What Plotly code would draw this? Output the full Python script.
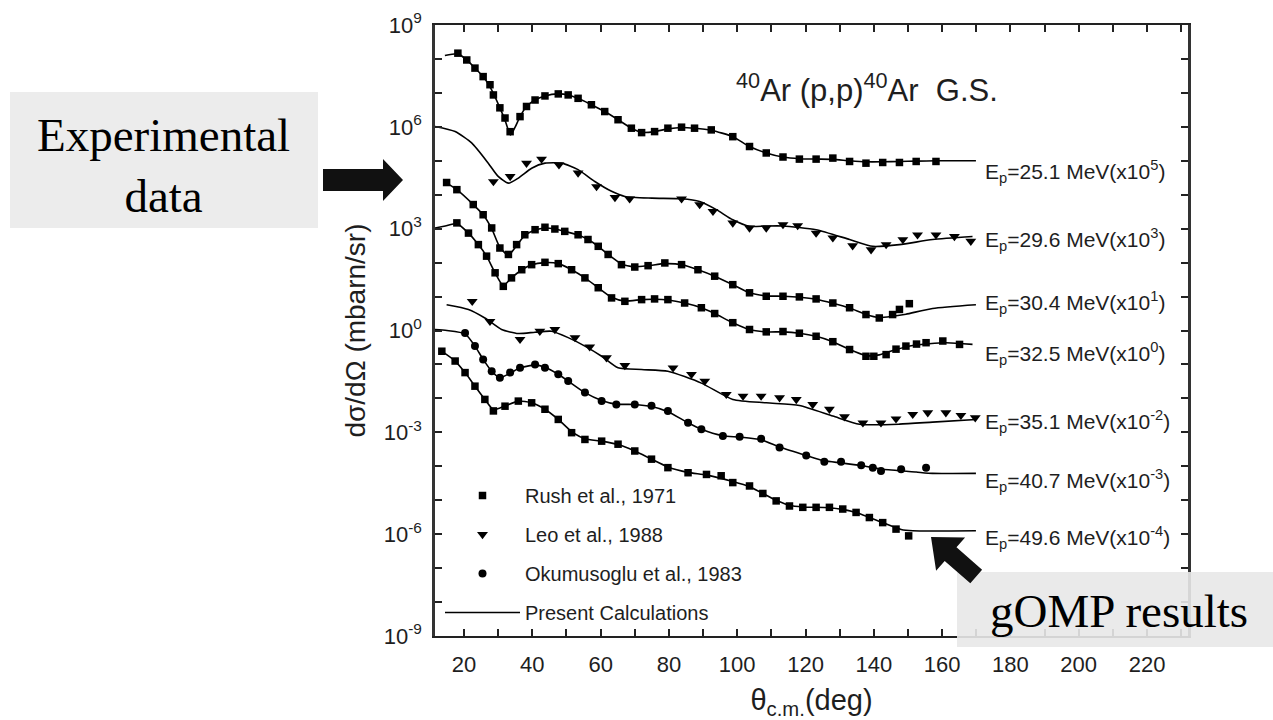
import plotly.graph_objects as go

# ---------------- data ----------------
energies = [25.1, 29.6, 30.4, 32.5, 35.1, 40.7, 49.6]
scale_exp = [5, 3, 1, 0, -2, -3, -4]
sources = ["Rush et al., 1971", "Leo et al., 1988", "Rush et al., 1971", "Rush et al., 1971",
           "Leo et al., 1988", "Okumusoglu et al., 1983", "Rush et al., 1971"]

# experimental angular distributions: theta (deg), dsigma/dOmega (mb/sr, unscaled)
th_251 = [18.2, 20.8, 23.2, 25.6, 27.6, 28.6, 30.5, 32.0, 33.5, 36.4, 38.3, 40.8, 43.7, 47.6, 50.5, 53.4,
          57.3, 61.2, 65.1, 69.0, 72.0, 75.8, 79.7, 83.7, 87.5, 92.4, 98.7, 103.6, 108.5, 113.4, 118.2,
          123.1, 128.0, 132.9, 137.7, 142.6, 147.5, 152.4, 158.2]
xs_251 = [1480, 933, 537, 302, 174, 87, 36.3, 18.2, 7.2, 20.0, 39.8, 61.7, 81.3, 93.3, 87.1, 69.2,
          44.7, 28.2, 16.2, 9.12, 6.76, 7.24, 9.12, 9.77, 9.12, 8.13, 5.13, 2.63, 1.70, 1.29, 1.12,
          1.12, 1.20, 0.955, 0.851, 0.891, 0.891, 0.955, 0.955]

th_296 = [28.6, 33.5, 38.3, 42.7, 47.8, 53.4, 58.8, 64.2, 68.5, 83.7, 89.0, 92.9, 98.7, 103.6, 108.5,
          113.4, 117.7, 123.1, 128.0, 133.8, 139.2, 143.6, 148.5, 152.8, 158.2, 163.6, 168.4]
xs_296 = [24.5, 34.7, 85.1, 112, 75.9, 43.7, 17.4, 8.32, 7.59, 7.59, 5.13, 3.24, 1.48, 1.05, 1.05,
          1.32, 1.23, 0.741, 0.537, 0.316, 0.240, 0.339, 0.479, 0.661, 0.661, 0.589, 0.427]

th_304 = [14.9, 17.9, 22.7, 25.6, 28.1, 30.5, 33.0, 35.4, 37.8, 40.8, 43.7, 46.6, 49.5, 53.4, 56.3,
          59.3, 62.2, 66.1, 70.0, 73.9, 78.8, 83.7, 88.5, 93.4, 98.7, 103.6, 108.5, 113.4, 118.2,
          123.1, 128.0, 132.9, 137.7, 141.6, 145.5, 147.5, 150.4]
xs_304 = [2290, 1410, 513, 257, 105, 26.9, 17.4, 33.9, 66.1, 93.3, 110, 97.7, 83.2, 66.1, 47.9,
          30.2, 17.4, 8.71, 7.41, 8.13, 9.77, 8.71, 6.17, 3.98, 2.24, 1.29, 1.02, 1.02, 0.977,
          0.851, 0.646, 0.468, 0.295, 0.234, 0.295, 0.417, 0.617]

th_325 = [17.9, 21.3, 24.2, 26.6, 29.1, 31.5, 33.9, 36.9, 39.8, 43.7, 47.6, 51.5, 55.4, 59.3, 63.2,
          67.1, 72.0, 75.8, 79.7, 84.6, 89.5, 93.4, 98.7, 103.6, 108.5, 113.4, 118.2, 123.1, 128.0,
          132.9, 137.7, 140.0, 143.6, 146.5, 149.4, 152.5, 155.3, 160.2, 165.1]
xs_325 = [1480, 741, 339, 155, 50.1, 20.0, 35.5, 61.7, 87.1, 102, 93.3, 61.7, 35.5, 18.2, 9.12,
          7.24, 8.13, 8.51, 8.13, 6.46, 4.68, 3.16, 1.70, 1.07, 0.912, 0.933, 0.832, 0.676, 0.468,
          0.275, 0.174, 0.174, 0.195, 0.282, 0.347, 0.398, 0.437, 0.490, 0.389]

th_351 = [22.4, 27.6, 36.4, 42.2, 46.6, 52.5, 56.8, 61.7, 67.1, 81.2, 86.6, 90.5, 96.8, 101.7, 107.0,
          112.4, 117.3, 122.1, 127.0, 131.4, 136.8, 142.1, 146.5, 151.4, 155.8, 161.1, 165.5, 169.7]
xs_351 = [724, 186, 55.0, 95.5, 107, 61.7, 33.1, 15.8, 9.33, 7.94, 5.13, 3.24, 1.32, 1.17, 1.17,
          1.05, 0.933, 0.661, 0.479, 0.288, 0.191, 0.191, 0.251, 0.339, 0.380, 0.380, 0.316, 0.269]

th_407 = [20.3, 23.2, 25.6, 28.1, 30.5, 33.5, 36.4, 40.8, 43.7, 47.6, 50.5, 55.4, 60.3, 64.6, 70.0,
          74.9, 79.7, 85.6, 89.5, 95.8, 100.7, 107.0, 112.4, 120.2, 125.5, 130.4, 136.3, 139.7, 142.1,
          148.0, 155.3]
xs_407 = [851, 347, 141, 63.1, 40.7, 57.5, 79.4, 100, 79.4, 51.3, 32.4, 14.8, 8.32, 6.61, 6.61,
          6.03, 4.27, 1.91, 1.23, 0.776, 0.741, 0.646, 0.355, 0.209, 0.135, 0.135, 0.107, 0.0912,
          0.0724, 0.0813, 0.0912]

th_496 = [13.5, 17.4, 20.3, 23.2, 26.1, 28.6, 32.0, 35.9, 39.8, 43.7, 47.6, 51.5, 55.4, 60.3, 65.1,
          70.0, 74.9, 79.7, 85.6, 91.0, 95.3, 98.7, 103.6, 107.5, 111.4, 115.3, 119.2, 123.1, 127.0,
          130.9, 134.8, 138.7, 142.6, 146.5, 150.2]
xs_496 = [2450, 1260, 575, 229, 93.3, 42.7, 58.9, 83.2, 74.1, 47.9, 24.0, 9.77, 6.17, 5.50, 4.47,
          2.82, 1.62, 0.912, 0.646, 0.575, 0.525, 0.331, 0.263, 0.158, 0.0955, 0.0676, 0.0617, 0.0617,
          0.0617, 0.0550, 0.0437, 0.0309, 0.0219, 0.0141, 0.00891]

# present (gOMP) calculations: theta (deg), dsigma/dOmega (mb/sr, unscaled)
thc_251 = [14.4, 18.2, 20.8, 23.2, 25.6, 28.0, 30.5, 32.0, 33.6, 35.0, 36.4, 38.3, 40.8, 43.7, 47.6,
           50.5, 53.4, 57.3, 61.2, 65.1, 69.0, 72.0, 75.8, 79.7, 83.7, 87.5, 92.4, 98.7, 103.6, 108.5,
           113.4, 118.2, 123.1, 128.0, 132.9, 137.7, 142.6, 147.5, 152.4, 158.2, 169.9]
xc_251 = [1260, 1410, 933, 537, 302, 126, 36.3, 15.8, 5.75, 10.0, 20.0, 39.8, 61.7, 81.3, 93.3,
          87.1, 69.2, 44.7, 28.2, 16.2, 9.12, 6.92, 7.24, 8.71, 9.55, 9.12, 7.94, 5.13, 2.63, 1.70,
          1.29, 1.15, 1.12, 1.10, 1.00, 0.933, 0.933, 0.955, 0.977, 1.0, 1.0]

thc_296 = [11.5, 17.4, 22.3, 27.1, 30.0, 33.0, 35.9, 39.8, 43.7, 48.6, 53.4, 58.3, 63.2, 67.1, 75.0,
           83.7, 89.0, 93.9, 98.7, 103.6, 108.5, 113.4, 123.1, 132.9, 139.7, 147.5, 157.2, 168.9]
xc_296 = [1020, 724, 331, 85.1, 34.7, 21.9, 30.9, 60.3, 85.1, 85.1, 55.0, 24.5, 12.6, 8.91, 7.94,
          7.59, 6.31, 3.63, 1.82, 1.17, 1.20, 1.20, 0.933, 0.479, 0.302, 0.339, 0.479, 0.589]

thc_304 = [14.0, 17.9, 22.7, 25.6, 28.1, 30.5, 33.0, 35.4, 37.8, 40.8, 43.7, 46.6, 49.5, 53.4, 56.3,
           59.3, 62.2, 66.1, 70.0, 73.9, 78.8, 83.7, 88.5, 93.4, 98.7, 103.6, 108.5, 113.4, 118.2,
           123.1, 128.0, 132.9, 137.7, 141.6, 145.5, 149.4, 157.2, 169.9]
xc_304 = [2510, 1410, 513, 257, 100, 28.2, 16.6, 31.6, 63.1, 91.2, 105, 97.7, 83.2, 64.6, 47.9,
          30.2, 17.4, 9.12, 7.59, 8.13, 9.33, 8.71, 6.17, 3.98, 2.24, 1.29, 1.05, 1.02, 0.955,
          0.832, 0.631, 0.457, 0.295, 0.240, 0.263, 0.302, 0.447, 0.575]

thc_325 = [11.5, 14.5, 17.9, 21.3, 24.2, 26.6, 29.1, 31.5, 33.9, 36.9, 39.8, 43.7, 47.6, 51.5, 55.4,
           59.3, 63.2, 67.1, 72.0, 75.8, 79.7, 84.6, 89.5, 93.4, 98.7, 103.6, 108.5, 113.4, 118.2,
           123.1, 128.0, 132.9, 137.7, 141.6, 146.5, 151.4, 161.1, 168.9]
xc_325 = [1050, 1200, 1410, 741, 339, 155, 50.1, 20.9, 35.5, 61.7, 87.1, 100, 93.3, 61.7, 35.5,
          18.2, 9.55, 7.41, 8.13, 8.32, 7.94, 6.46, 4.68, 3.16, 1.70, 1.07, 0.912, 0.912, 0.832,
          0.676, 0.468, 0.275, 0.182, 0.191, 0.275, 0.363, 0.437, 0.389]

thc_351 = [14.9, 21.3, 26.1, 31.0, 35.9, 40.8, 45.6, 50.5, 55.4, 60.3, 65.1, 72.0, 79.7, 89.5, 98.7,
           108.5, 118.2, 128.0, 135.8, 147.5, 157.2, 169.9]
xc_351 = [575, 417, 234, 107, 81.3, 89.1, 95.5, 61.7, 34.7, 17.4, 7.94, 7.08, 6.31, 2.82, 0.933,
          0.741, 0.617, 0.302, 0.174, 0.174, 0.200, 0.240]

thc_407 = [11.5, 15.0, 20.3, 23.2, 25.6, 28.1, 30.5, 33.5, 36.4, 40.8, 43.7, 47.6, 50.5, 55.4, 60.3,
           64.6, 70.0, 74.9, 79.7, 85.6, 89.5, 95.8, 100.7, 107.0, 112.4, 120.2, 125.5, 130.4, 136.3,
           142.6, 152.4, 157.2, 169.9]
xc_407 = [1070, 1000, 794, 347, 141, 63.1, 40.7, 55.0, 79.4, 95.5, 83.2, 51.3, 32.4, 14.8, 8.71,
          6.76, 6.61, 5.75, 4.07, 1.91, 1.23, 0.794, 0.724, 0.603, 0.372, 0.209, 0.145, 0.126, 0.105,
          0.0813, 0.0676, 0.0617, 0.0617]

thc_496 = [13.0, 17.4, 20.3, 23.2, 26.1, 28.6, 32.0, 35.9, 39.8, 43.7, 47.6, 51.5, 55.4, 60.3, 65.1,
           70.0, 74.9, 79.7, 85.6, 91.0, 98.7, 103.6, 111.4, 115.3, 119.2, 127.0, 134.8, 142.6, 148.0,
           151.4, 169.9]
xc_496 = [2630, 1260, 575, 229, 93.3, 46.8, 60.3, 83.2, 74.1, 47.9, 24.0, 10.5, 6.46, 5.50, 4.37,
          2.82, 1.62, 0.955, 0.661, 0.550, 0.355, 0.251, 0.100, 0.0708, 0.0631, 0.0603, 0.0437, 0.0219,
          0.0138, 0.0126, 0.0126]

exp_theta = [th_251, th_296, th_304, th_325, th_351, th_407, th_496]
exp_xs = [xs_251, xs_296, xs_304, xs_325, xs_351, xs_407, xs_496]
calc_theta = [thc_251, thc_296, thc_304, thc_325, thc_351, thc_407, thc_496]
calc_xs = [xc_251, xc_296, xc_304, xc_325, xc_351, xc_407, xc_496]

y_tick_exps = list(range(-9, 10))
x_tick_vals = list(range(20, 231, 10))

# ---------------- layout helpers ----------------
W, H = 1273, 720
ML, MR, MT, MB = 435, 85, 25, 84
PW, PH = W - ML - MR, H - MT - MB
FONT = "Liberation Sans, Arial, Helvetica, sans-serif"
SERIF = "Liberation Serif, Times New Roman, serif"
INK = "#1e1e1e"


def pxx(x):
    return (x - ML) / PW


def pxy(y):
    return (H - MB - y) / PH


def poly(points):
    return "M " + " L ".join(f"{pxx(x):.5f},{pxy(y):.5f}" for x, y in points) + " Z"


symbols = {"Rush et al., 1971": ("square", 7.5),
           "Leo et al., 1988": ("triangle-down", 9.5),
           "Okumusoglu et al., 1983": ("circle", 8)}
ranks = {"Rush et al., 1971": 1, "Leo et al., 1988": 2, "Okumusoglu et al., 1983": 3}

fig = go.Figure()
shown = set()
for i, e in enumerate(energies):
    f = 10.0 ** scale_exp[i]
    src = sources[i]
    sym, size = symbols[src]
    fig.add_trace(go.Scatter(
        x=exp_theta[i], y=[v * f for v in exp_xs[i]], mode="markers",
        marker=dict(symbol=sym, size=size, color="black"),
        name=src, legendgroup=src, showlegend=src not in shown, legendrank=ranks[src]))
    shown.add(src)

for i, e in enumerate(energies):
    f = 10.0 ** scale_exp[i]
    fig.add_trace(go.Scatter(
        x=calc_theta[i], y=[v * f for v in calc_xs[i]], mode="lines",
        line=dict(color="black", width=1.6, shape="spline", smoothing=0.6),
        name="Present Calculations", legendgroup="calc", showlegend=(i == 0), legendrank=4))

# curve labels
label_logy = [4.68, 2.68, 0.82, -0.68, -2.68, -4.41, -6.09]
annotations = []
for i, e in enumerate(energies):
    annotations.append(dict(
        x=172.0, y=label_logy[i], xref="x", yref="y", xanchor="left", yanchor="middle",
        text=f"E<sub>p</sub>={e} MeV(x10<sup>{scale_exp[i]}</sup>)", showarrow=False,
        font=dict(family=FONT, size=21, color=INK)))

annotations.append(dict(
    x=pxx(867), y=pxy(88), xref="paper", yref="paper", xanchor="center", yanchor="middle",
    text="<sup>40</sup>Ar (p,p)<sup>40</sup>Ar&nbsp; G.S.", showarrow=False,
    font=dict(family=FONT, size=31, color=INK)))

annotations.append(dict(
    x=pxx(163), y=pxy(165), xref="paper", yref="paper", xanchor="center", yanchor="middle",
    text="Experimental<br>data", showarrow=False,
    font=dict(family=SERIF, size=47, color="black")))
annotations.append(dict(
    x=pxx(1119), y=pxy(611), xref="paper", yref="paper", xanchor="center", yanchor="middle",
    text="gOMP results", showarrow=False,
    font=dict(family=SERIF, size=47, color="black")))

shapes = [
    dict(type="rect", xref="paper", yref="paper", x0=pxx(10), x1=pxx(318), y0=pxy(228), y1=pxy(92),
         fillcolor="#ececec", line=dict(width=0), layer="below"),
    dict(type="rect", xref="paper", yref="paper", x0=pxx(957), x1=pxx(1273), y0=pxy(647), y1=pxy(572),
         fillcolor="rgba(232,232,232,0.9)", line=dict(width=0), layer="above"),
    dict(type="path", xref="paper", yref="paper", layer="above",
         path=poly([(323, 169), (383, 169), (383, 159), (403, 180), (383, 201), (383, 191), (323, 191)]),
         fillcolor="#111111", line=dict(width=0)),
    dict(type="path", xref="paper", yref="paper", layer="above",
         path=poly([(931, 537), (965.1, 537.5), (956.5, 547.3), (982.1, 569.7), (970.3, 583.3),
                    (944.7, 560.9), (936.1, 570.7)]),
         fillcolor="#111111", line=dict(width=0)),
]

fig.update_layout(
    width=W, height=H,
    margin=dict(l=ML, r=MR, t=MT, b=MB, autoexpand=False),
    paper_bgcolor="white", plot_bgcolor="white",
    font=dict(family=FONT, color=INK),
    showlegend=True,
    legend=dict(x=pxx(440), y=pxy(476), xanchor="left", yanchor="top",
                font=dict(family=FONT, size=20, color=INK), bgcolor="rgba(0,0,0,0)",
                tracegroupgap=10, itemwidth=75, traceorder="grouped"),
    annotations=annotations, shapes=shapes,
)

fig.update_xaxes(
    range=[11.5, 232], showgrid=False, zeroline=False,
    showline=True, linecolor="#222", linewidth=2, mirror="ticks",
    ticks="inside", ticklen=7, tickwidth=1.5, tickcolor="#222",
    tickmode="array", tickvals=x_tick_vals,
    ticktext=[str(v) if v % 20 == 0 and v <= 220 else "" for v in x_tick_vals],
    tickfont=dict(family=FONT, size=22, color=INK), ticklabelstandoff=8,
    title=dict(text="θ<sub>c.m.</sub>(deg)", font=dict(family=FONT, size=29, color=INK), standoff=16),
)
fig.update_yaxes(
    type="log", range=[-9, 9], showgrid=False, zeroline=False,
    showline=True, linecolor="#333", linewidth=2.5, mirror="ticks",
    ticks="inside", ticklen=7, tickwidth=1.5, tickcolor="#222",
    tickmode="array", tickvals=[10.0 ** k for k in y_tick_exps],
    ticktext=[f"10<sup>{k}</sup>" if k % 3 == 0 else "" for k in y_tick_exps],
    tickfont=dict(family=FONT, size=22, color=INK), ticklabelstandoff=6,
    title=dict(text="dσ/dΩ (mbarn/sr)", font=dict(family=FONT, size=28, color=INK), standoff=10),
)

fig.write_html("out.html")
